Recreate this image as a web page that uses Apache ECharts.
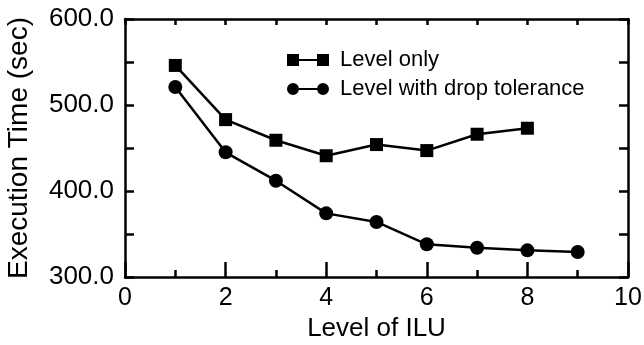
<!DOCTYPE html>
<html>
<head>
<meta charset="utf-8">
<script src="https://cdn.jsdelivr.net/npm/echarts@6/dist/echarts.min.js"></script>
<style>
html,body{margin:0;padding:0;background:#fff;}
#chart{width:644px;height:345px;}
</style>
</head>
<body>
<div id="chart"></div>
<script>
// Data
var levelsOnly = [1, 2, 3, 4, 5, 6, 7, 8];
var levelOnlyTimes = [546, 483, 459, 441, 454, 447, 466, 473];
var levelsDrop = [1, 2, 3, 4, 5, 6, 7, 8, 9];
var dropTolTimes = [521, 445, 412, 374, 364, 338, 334, 331, 329];
var seriesNames = ['Level only', 'Level with drop tolerance'];
var xAxisTitle = 'Level of ILU';
var yAxisTitle = 'Execution Time (sec)';

var FONT = '"Liberation Sans", Arial, Helvetica, sans-serif';
var chart = echarts.init(document.getElementById('chart'));

function pairs(xs, ys) { return xs.map(function (x, i) { return [x, ys[i]]; }); }

var sqIcon = 'path://M0,0H12V12H0Z M12,5H30V7H12Z M30,0H42V12H30Z';
var ciIcon = 'path://M0,6A6,6,0,1,1,12,6A6,6,0,1,1,0,6Z M12,5H30V7H12Z M30,6A6,6,0,1,1,42,6A6,6,0,1,1,30,6Z';

var axisLineStyle = { color: '#000', width: 2.5 };
var tickStyle = { color: '#000', width: 2.5 };

chart.setOption({
  animation: false,
  backgroundColor: '#fff',
  grid: { left: 125, right: 16, top: 19, bottom: 68, containLabel: false, outerBoundsMode: 'none' },
  legend: {
    orient: 'vertical',
    left: 282,
    top: 44,
    itemWidth: 42,
    itemHeight: 12,
    itemGap: 7,
    textStyle: { fontFamily: FONT, fontSize: 22, color: '#000', padding: [0, 0, 0, 6] },
    data: [
      { name: seriesNames[0], icon: sqIcon, itemStyle: { color: '#000' } },
      { name: seriesNames[1], icon: ciIcon, itemStyle: { color: '#000' } }
    ]
  },
  xAxis: [
    {
      type: 'value', min: 0, max: 10, interval: 2, position: 'bottom',
      name: xAxisTitle, nameLocation: 'middle', nameGap: 36,
      nameTextStyle: { fontFamily: FONT, fontSize: 26, color: '#000', verticalAlign: 'top' },
      axisLine: { show: true, onZero: false, lineStyle: axisLineStyle },
      axisTick: { show: true, inside: true, length: 15, lineStyle: tickStyle },
      minorTick: { show: true, splitNumber: 2, length: 7, lineStyle: tickStyle },
      axisLabel: { fontFamily: FONT, fontSize: 25, color: '#000', margin: 9 },
      splitLine: { show: false }
    },
    {
      type: 'value', min: 0, max: 10, interval: 1, position: 'top',
      axisLine: { show: true, onZero: false, lineStyle: axisLineStyle },
      axisTick: { show: true, inside: true, length: 6, lineStyle: tickStyle },
      axisLabel: { show: false },
      splitLine: { show: false }
    }
  ],
  yAxis: [
    {
      type: 'value', min: 300, max: 600, interval: 50, position: 'left',
      name: yAxisTitle, nameLocation: 'middle', nameGap: 92, nameRotate: 90,
      nameTextStyle: { fontFamily: FONT, fontSize: 28, color: '#000' },
      axisLine: { show: true, onZero: false, lineStyle: axisLineStyle },
      axisTick: { show: true, inside: true, length: 9, lineStyle: tickStyle },
      axisLabel: {
        fontFamily: FONT, fontSize: 26, color: '#000', margin: 11,
        formatter: function (v) { return (v % 100 === 0) ? v.toFixed(1) : ''; }
      },
      splitLine: { show: false }
    },
    {
      type: 'value', min: 300, max: 600, interval: 50, position: 'right',
      axisLine: { show: true, onZero: false, lineStyle: axisLineStyle },
      axisTick: { show: true, inside: true, length: 9, lineStyle: tickStyle },
      axisLabel: { show: false },
      splitLine: { show: false }
    }
  ],
  series: [
    {
      name: seriesNames[0], type: 'line', data: pairs(levelsOnly, levelOnlyTimes),
      symbol: 'rect', symbolSize: 13, showAllSymbol: true,
      lineStyle: { color: '#000', width: 2.5 },
      itemStyle: { color: '#000', borderWidth: 0 }
    },
    {
      name: seriesNames[1], type: 'line', data: pairs(levelsDrop, dropTolTimes),
      symbol: 'circle', symbolSize: 14, showAllSymbol: true,
      lineStyle: { color: '#000', width: 2.5 },
      itemStyle: { color: '#000', borderWidth: 0 }
    }
  ]
});
</script>
</body>
</html>
